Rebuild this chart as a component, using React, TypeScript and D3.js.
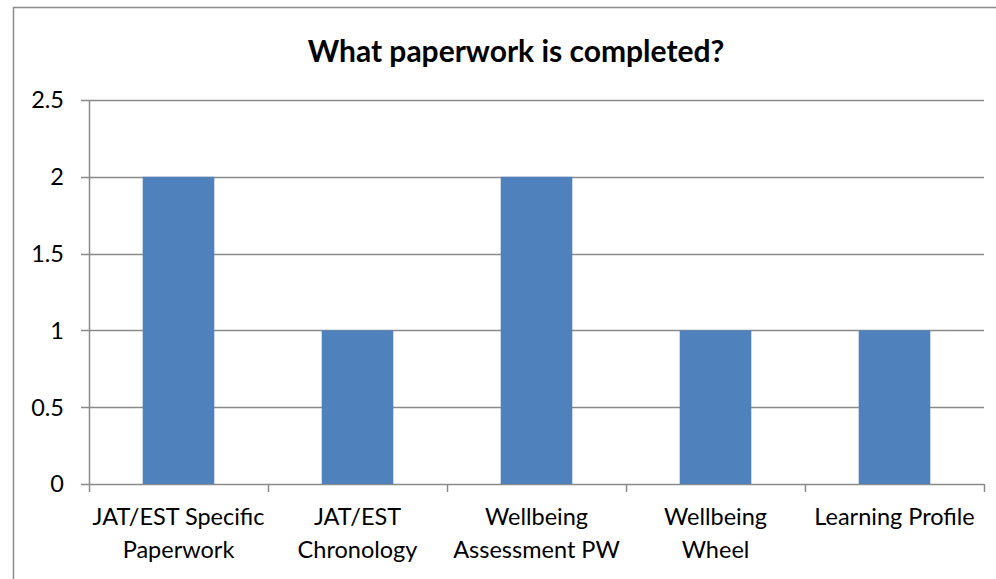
import React from "react";
import * as d3 from "d3";

const categories = [
  "JAT/EST Specific Paperwork",
  "JAT/EST Chronology",
  "Wellbeing Assessment PW",
  "Wellbeing Wheel",
  "Learning Profile",
];
const labelLines = [
  ["JAT/EST Specific", "Paperwork"],
  ["JAT/EST", "Chronology"],
  ["Wellbeing", "Assessment PW"],
  ["Wellbeing", "Wheel"],
  ["Learning Profile"],
];
const values = [2, 1, 2, 1, 1];
const yTicks = [0, 0.5, 1, 1.5, 2, 2.5];
const yTickLabels = ["0", "0.5", "1", "1.5", "2", "2.5"];
const title = "What paperwork is completed?";

const W = 996;
const H = 579;
const left = 89;
const right = 984;
const top = 100;
const bottom = 484;
const font = "Lato, 'Open Sans', sans-serif";

export default function App() {
  const x = d3
    .scaleBand<string>()
    .domain(categories)
    .range([left, right])
    .paddingInner(0.6)
    .paddingOuter(0.3);
  const y = d3.scaleLinear().domain([0, 2.5]).range([bottom, top]);
  const step = x.step();
  const grid = "#8a8a8a";

  return (
    <svg
      width={W}
      height={H}
      style={{ position: "absolute", left: 0, top: 0, background: "#fff" }}
    >
      <rect x={13.5} y={7.5} width={1100} height={700} fill="#fff" stroke="#8c8c8c" strokeWidth={1.5} />
      <text
        x={516}
        y={62}
        textAnchor="middle"
        fontFamily={font}
        fontWeight="bold"
        fontSize={30}
        fill="#000"
      >
        {title}
      </text>
      {yTicks.map((t, i) => (
        <g key={i}>
          <line x1={81} x2={right} y1={Math.round(y(t)) + 0.5} y2={Math.round(y(t)) + 0.5} stroke={grid} strokeWidth={1.5} />
          <text
            x={64}
            y={y(t)}
            dy="0.36em"
            textAnchor="end"
            fontFamily={font}
            fontSize={23.5}
            fill="#000"
          >
            {yTickLabels[i]}
          </text>
        </g>
      ))}
      <line x1={left + 0.5} x2={left + 0.5} y1={top} y2={bottom} stroke={grid} strokeWidth={1.5} />
      {categories.map((c, i) => (
        <rect
          key={c}
          x={x(c)}
          y={y(values[i])}
          width={x.bandwidth()}
          height={y(0) - y(values[i])}
          fill="#4F81BD"
        />
      ))}
      {d3.range(categories.length + 1).map((i) => (
        <line
          key={i}
          x1={left + i * step + 0.5}
          x2={left + i * step + 0.5}
          y1={bottom}
          y2={bottom + 8}
          stroke={grid}
          strokeWidth={1.5}
        />
      ))}
      {categories.map((c, i) => (
        <text
          key={c}
          x={(x(c) as number) + x.bandwidth() / 2}
          textAnchor="middle"
          fontFamily={font}
          fontSize={23.5}
          fill="#000"
        >
          {labelLines[i].map((ln, j) => (
            <tspan key={j} x={(x(c) as number) + x.bandwidth() / 2} y={525 + j * 33}>
              {ln}
            </tspan>
          ))}
        </text>
      ))}
    </svg>
  );
}
